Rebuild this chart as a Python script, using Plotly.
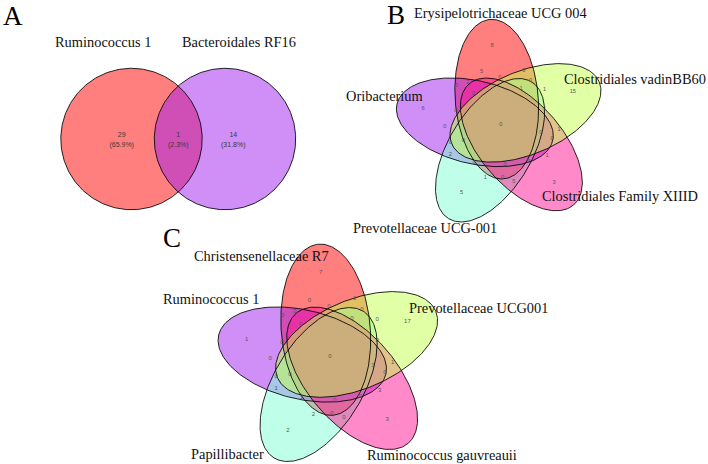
import numpy as np
import plotly.graph_objects as go

# ---------------- data ----------------
# panel A: two-set Venn (left only, both, right only)
a_sets = ["Ruminococcus 1", "Bacteroidales RF16"]
a_counts = [29, 1, 14]

# panel B: five-set Venn, sets listed clockwise from the top ellipse
b_sets = ["Erysipelotrichaceae UCG 004", "Clostridiales vadinBB60",
          "Clostridiales Family XIIID", "Prevotellaceae UCG-001", "Oribacterium"]
b_only = [8, 15, 3, 5, 6]
b_pair_far = [5, 1, 1, 1, 0]
b_pair_near = [0, 1, 5, 2, 0]
b_triple_a = [0, 0, 0, 0, 2]
b_triple_b = [0, 1, 0, 0, 0]
b_quad = [1, 0, 0, 0, 0]
b_all = 0

# panel C: five-set Venn
c_sets = ["Christensenellaceae R7", "Prevotellaceae UCG001",
          "Ruminococcus gauvreauii", "Papillibacter", "Ruminococcus 1"]
c_only = [7, 17, 3, 2, 1]
c_pair_far = [0, 0, 3, 2, 0]
c_pair_near = [1, 1, 0, 1, 0]
c_triple_a = [0, 0, 0, 0, 0]
c_triple_b = [0, 0, 0, 1, 0]
c_quad = [0, 1, 0, 0, 0]
c_all = 0

# ---------------- layout / style ----------------
W, H = 708, 464
SERIF = "Liberation Serif, Times New Roman, serif"
SANS = "Liberation Sans, Arial, sans-serif"
# clockwise from the top: red, lime, deeppink, aquamarine, purple
FILL5 = ["rgba(255,0,0,0.5)", "rgba(195,255,75,0.5)", "rgba(255,20,147,0.5)",
         "rgba(127,255,212,0.5)", "rgba(160,32,240,0.5)"]
DRAW_ORDER = [0, 4, 3, 2, 1]   # sets were drawn counter-clockwise from the top
EDGE = "rgba(0,0,0,0.85)"

# five-ellipse geometry (pixels at panel-B scale)
ELL_A, ELL_B, ELL_D, ELL_E = 41.5, 80.0, 27.0, 2.0
PHI0, TILT = -6.3, 1.5
ELL_SHIFT = (1.0, 1.5)
# count label rings: radius, angle of first set (deg, clockwise from up)
RINGS = {"only": (79.2, -6.3), "pair_far": (55.8, -20.0), "pair_near": (58.6, 23.1),
         "triple_a": (53.3, 34.0), "triple_b": (46.8, -1.2), "quad": (40.9, 30.0)}


def unit(deg):
    r = np.radians(deg)
    return np.sin(r), -np.cos(r)


def ellipse_xy(cx, cy, a, b, psi, n=260):
    t = np.linspace(0, 2 * np.pi, n)
    ux, uy = unit(psi)
    vx, vy = -uy, ux
    x = cx + b * np.cos(t) * ux + a * np.sin(t) * vx
    y = cy + b * np.cos(t) * uy + a * np.sin(t) * vy
    return x, y


def draw_shapes(fig, outlines, fills):
    for (x, y), col in zip(outlines, fills):
        fig.add_trace(go.Scatter(x=x, y=y, mode="lines", fill="toself", fillcolor=col,
                                 line=dict(width=0), hoverinfo="skip", showlegend=False))
    for x, y in outlines:
        fig.add_trace(go.Scatter(x=x, y=y, mode="lines", line=dict(color=EDGE, width=1),
                                 hoverinfo="skip", showlegend=False))


def five_venn(fig, origin, s, groups, center_val):
    ox, oy = origin
    cx0, cy0 = ox + ELL_SHIFT[0] * s, oy + ELL_SHIFT[1] * s
    outlines = {}
    for k in range(5):
        phi = PHI0 + 72 * k
        ux, uy = unit(phi)
        px, py = unit(phi - 90)
        cx = cx0 + s * (ELL_D * ux + ELL_E * px)
        cy = cy0 + s * (ELL_D * uy + ELL_E * py)
        outlines[k] = ellipse_xy(cx, cy, ELL_A * s, ELL_B * s, phi + TILT)
    draw_shapes(fig, [outlines[k] for k in DRAW_ORDER], [FILL5[k] for k in DRAW_ORDER])

    xs, ys, txt = [ox], [oy], [str(center_val)]
    for key, vals in groups.items():
        r, base = RINGS[key]
        for k, v in enumerate(vals):
            ux, uy = unit(base + 72 * k)
            xs.append(ox + r * s * ux)
            ys.append(oy + r * s * uy)
            txt.append(str(v))
    fig.add_trace(go.Scatter(x=xs, y=ys, mode="text", text=txt, textposition="middle center",
                             textfont=dict(family=SANS, size=5.6 * s, color="#555"),
                             hoverinfo="skip", showlegend=False))


fig = go.Figure()

# ---- panel A ----
circ_centers = [(131.5, 139.0), (225.0, 139.0)]
circ_r = 70.7
draw_shapes(fig, [ellipse_xy(cx, cy, circ_r, circ_r, 0) for cx, cy in circ_centers],
            [FILL5[0], FILL5[4]])
total = sum(a_counts)
a_lab_x = [121.7, 178.3, 233.3]
fig.add_trace(go.Scatter(
    x=a_lab_x + a_lab_x, y=[135] * 3 + [145.7] * 3, mode="text",
    text=[str(v) for v in a_counts] + [f"({100 * v / total:.1f}%)" for v in a_counts],
    textposition="middle center", textfont=dict(family=SANS, size=7, color="#3a3a3a"),
    hoverinfo="skip", showlegend=False))

# ---- panels B and C ----
five_venn(fig, (500.7, 124.3), 1.0,
          {"only": b_only, "pair_far": b_pair_far, "pair_near": b_pair_near,
           "triple_a": b_triple_a, "triple_b": b_triple_b, "quad": b_quad}, b_all)
five_venn(fig, (330.0, 356.7), 1.073,
          {"only": c_only, "pair_far": c_pair_far, "pair_near": c_pair_near,
           "triple_a": c_triple_a, "triple_b": c_triple_b, "quad": c_quad}, c_all)

# ---- set names and panel letters ----
name_pos = [(103, 42), (238.7, 42),
            (500.3, 12.7), (634.5, 79), (619.7, 196), (424.5, 228), (384.6, 96),
            (261, 256), (478, 308), (441.7, 455), (227, 454), (211, 298.5)]
for name, (x, y) in zip(a_sets + b_sets + c_sets, name_pos):
    fig.add_annotation(x=x, y=y, text=name, showarrow=False, xanchor="center", yanchor="middle",
                       font=dict(family=SERIF, size=14.4, color="#111"))

for letter, (x, y) in zip("ABC", [(13, 16), (396, 15), (172, 238)]):
    fig.add_annotation(x=x, y=y, text=letter, showarrow=False, xanchor="center", yanchor="middle",
                       font=dict(family=SERIF, size=27, color="#000"))

fig.update_layout(
    width=W, height=H,
    margin=dict(l=0, r=0, t=0, b=0),
    paper_bgcolor="white", plot_bgcolor="white",
    xaxis=dict(range=[0, W], visible=False, fixedrange=True),
    yaxis=dict(range=[H, 0], visible=False, fixedrange=True),
    showlegend=False,
)

# the page body has a default 8px margin; drop it so the figure fills the window
fig.write_html("out.html", config={"displayModeBar": False},
               post_script="document.body.style.margin='0';document.body.style.overflow='hidden';")
